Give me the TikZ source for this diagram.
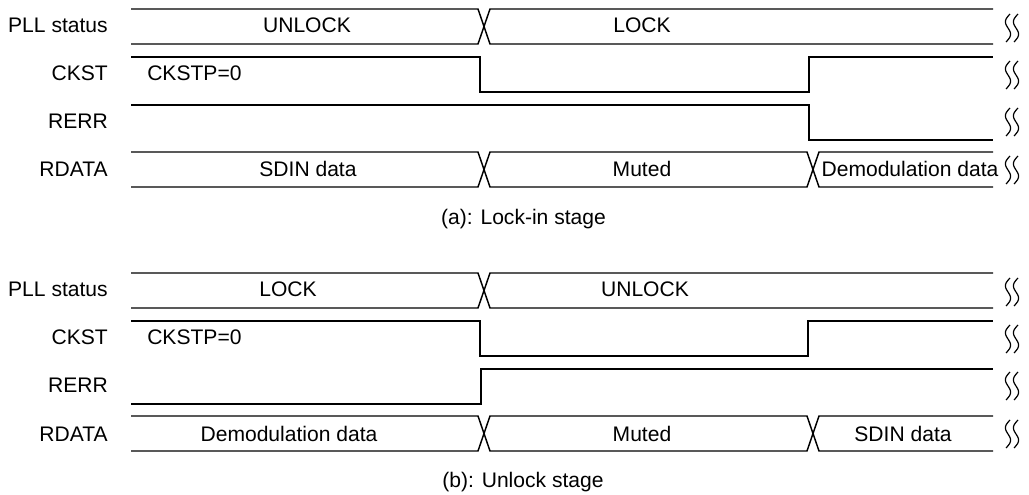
\documentclass[tikz,border=0pt]{standalone}
\usepackage{fontspec}
\setmainfont{Liberation Sans}
\begin{document}
\begin{tikzpicture}[x=0.75pt,y=-0.75pt,
  wave/.style={line width=1.1pt,line join=miter},
  txt/.style={inner sep=0pt,anchor=base,font=\fontsize{15.8}{18}\selectfont},
  sig/.style={txt,anchor=base east},
  brk/.pic={
    \draw[line width=0.9pt,domain=0:1,samples=40,smooth] plot ({2-4*\x-3.5*sin(360*\x)},{-14+28*\x});
    \draw[line width=0.9pt,domain=0:1,samples=40,smooth] plot ({10-4*\x-3.5*sin(360*\x)},{-14+28*\x});
  }]
\useasboundingbox (0,0) rectangle (1029,495);
% ---------- panel (a) ----------
\node[sig] (a1) at (108,33) {PLL status};
\node[sig] (a2) at (108,80.5) {CKST};
\node[sig] (a3) at (108,128.5) {RERR};
\node[sig] (a4) at (108,177) {RDATA};
% PLL status
\draw[wave] (131,9) -- (478,9) -- (490,44) -- (993,44);
\draw[wave] (131,44) -- (478,44) -- (490,9) -- (993,9);
\node[txt] (aunl) at (307,33) {UNLOCK};
\node[txt] (alck) at (642,33) {LOCK};
% CKST
\draw[wave] (131,57) -- (480,57) -- (480,92) -- (809,92) -- (809,57) -- (993,57);
\node[txt,anchor=base west] (ackstp) at (147,80.5) {CKSTP=0};
% RERR
\draw[wave] (131,105) -- (809,105) -- (809,140) -- (993,140);
% RDATA
\draw[wave] (131,152) -- (478,152) -- (490,187) -- (807,187) -- (819,152) -- (993,152);
\draw[wave] (131,187) -- (478,187) -- (490,152) -- (807,152) -- (819,187) -- (993,187);
\node[txt] (asdin) at (308,177) {SDIN data};
\node[txt] (amut) at (642,177) {Muted};
\node[txt] (adem) at (910,177) {Demodulation data};
\foreach \yy in {28,75,122,170} \pic at (1008,\yy) {brk};
\node[txt] (capa) at (523.5,225) {(a): Lock-in stage};
% ---------- panel (b) ----------
\node[sig] (b1) at (108,297) {PLL status};
\node[sig] (b2) at (108,344.5) {CKST};
\node[sig] (b3) at (108,392.5) {RERR};
\node[sig] (b4) at (108,441) {RDATA};
% PLL status
\draw[wave] (131,273) -- (478,273) -- (490,308) -- (993,308);
\draw[wave] (131,308) -- (478,308) -- (490,273) -- (993,273);
\node[txt] (blck) at (288,297) {LOCK};
\node[txt] (bunl) at (645,297) {UNLOCK};
% CKST
\draw[wave] (131,321) -- (480,321) -- (480,356) -- (808,356) -- (808,321) -- (993,321);
\node[txt,anchor=base west] (bckstp) at (147,344.5) {CKSTP=0};
% RERR
\draw[wave] (131,404) -- (481,404) -- (481,369) -- (993,369);
% RDATA
\draw[wave] (131,416) -- (478,416) -- (490,451) -- (807,451) -- (819,416) -- (993,416);
\draw[wave] (131,451) -- (478,451) -- (490,416) -- (807,416) -- (819,451) -- (993,451);
\node[txt] (bdem) at (289,441) {Demodulation data};
\node[txt] (bmut) at (642,441) {Muted};
\node[txt] (bsdin) at (903,441) {SDIN data};
\foreach \yy in {292,339,386,434} \pic at (1008,\yy) {brk};
\node[txt] (capb) at (523,488) {(b): Unlock stage};
\end{tikzpicture}
\end{document}
